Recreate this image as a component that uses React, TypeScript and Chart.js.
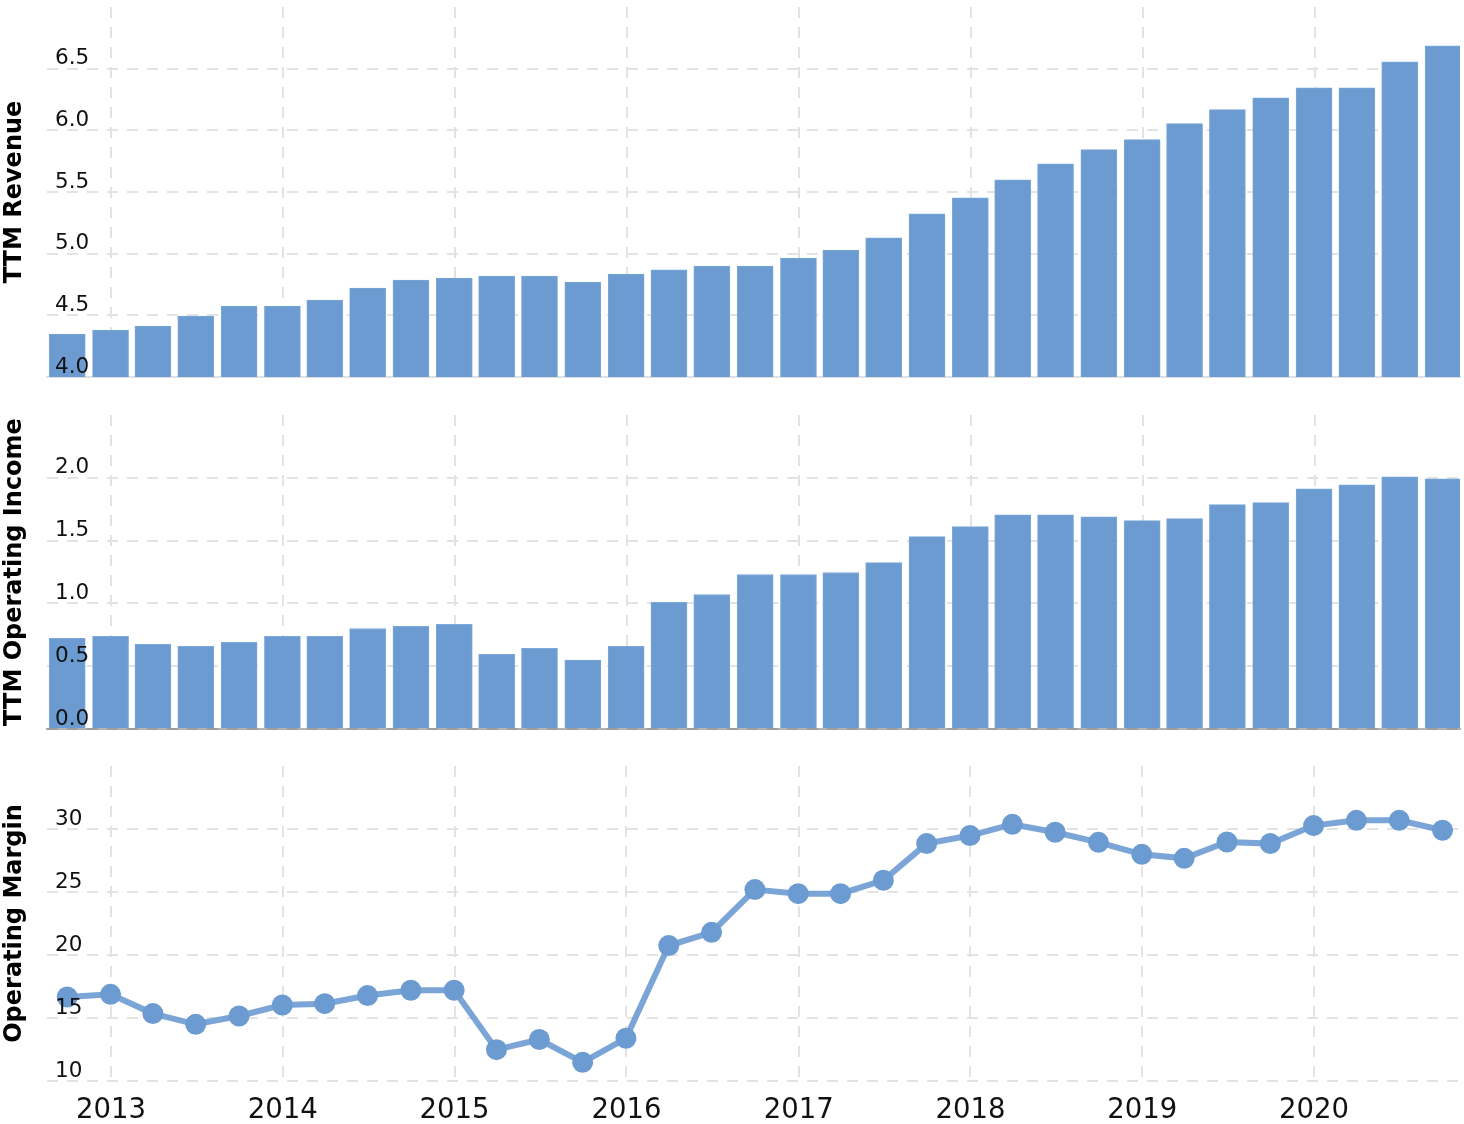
import React, { useEffect, useRef } from 'react';
import { Chart, registerables } from 'chart.js';

Chart.register(...registerables);

// ---- Data ----
const quarterEnds = [
  '2012-09-30', '2012-12-31',
  '2013-03-31', '2013-06-30', '2013-09-30', '2013-12-31',
  '2014-03-31', '2014-06-30', '2014-09-30', '2014-12-31',
  '2015-03-31', '2015-06-30', '2015-09-30', '2015-12-31',
  '2016-03-31', '2016-06-30', '2016-09-30', '2016-12-31',
  '2017-03-31', '2017-06-30', '2017-09-30', '2017-12-31',
  '2018-03-31', '2018-06-30', '2018-09-30', '2018-12-31',
  '2019-03-31', '2019-06-30', '2019-09-30', '2019-12-31',
  '2020-03-31', '2020-06-30', '2020-09-30',
];

const ttmRevenue = [
  4.347, 4.38, 4.412, 4.493, 4.575, 4.575, 4.624, 4.721, 4.786, 4.803, 4.819,
  4.819, 4.77, 4.835, 4.868, 4.9, 4.9, 4.965, 5.03, 5.128, 5.323, 5.453,
  5.599, 5.729, 5.843, 5.925, 6.055, 6.168, 6.263, 6.345, 6.345, 6.556, 6.686,
];

const ttmOperatingIncome = [
  0.722, 0.738, 0.675, 0.659, 0.69, 0.738, 0.738, 0.8, 0.817, 0.833, 0.595,
  0.643, 0.548, 0.659, 1.008, 1.071, 1.23, 1.23, 1.246, 1.325, 1.532, 1.611,
  1.706, 1.706, 1.69, 1.659, 1.675, 1.786, 1.802, 1.913, 1.944, 2.008, 1.992,
];

const operatingMargin = [
  16.67, 16.88, 15.35, 14.5, 15.16, 16.03, 16.14, 16.78, 17.2, 17.2, 12.49,
  13.29, 11.48, 13.39, 20.75, 21.8, 25.19, 24.87, 24.87, 25.93, 28.84, 29.48,
  30.37, 29.74, 28.94, 27.99, 27.67, 28.97, 28.84, 30.27, 30.69, 30.69, 29.9,
];

const yearTicks = [2013, 2014, 2015, 2016, 2017, 2018, 2019, 2020];

// ---- Styles ----
const FONT = "'DejaVu Sans', 'Verdana', sans-serif";
const BAR = '#6b9bd1';
const BAR_BORDER = '#7ba7d9';
const GRID = '#e3e3e3';
const DASH = [11, 9];
const DAY = 86400000;

const xMin = Date.parse(quarterEnds[0]) - 43 * DAY;
const xMax = Date.parse(quarterEnds[quarterEnds.length - 1]) + 36 * DAY;

const points = (vals: number[]) =>
  quarterEnds.map((d, i) => ({ x: Date.parse(d), y: vals[i] }));

function xScale(showLabels: boolean, borderColor: string | null, borderZ: number) {
  return {
    type: 'linear',
    min: xMin,
    max: xMax,
    offset: false,
    afterBuildTicks: (axis: any) => {
      axis.ticks = yearTicks.map((y) => ({ value: Date.UTC(y, 0, 1) }));
    },
    grid: { display: true, drawTicks: false, color: GRID, lineWidth: 2, offset: false },
    border: {
      display: !!borderColor,
      color: borderColor || GRID,
      width: 2,
      dash: DASH,
      z: borderZ,
    },
    ticks: {
      display: showLabels,
      autoSkip: false,
      maxRotation: 0,
      minRotation: 0,
      padding: 4,
      color: '#111',
      font: { family: FONT, size: 27.5, lineHeight: 52 / 27.5 },
      callback: (v: any) => String(new Date(Number(v)).getUTCFullYear()),
    },
  };
}

function yScale(title: string, min: number, max: number, step: number, digits: number) {
  return {
    type: 'linear',
    position: 'left',
    min,
    max,
    ticks: {
      stepSize: step,
      mirror: true,
      padding: 8,
      labelOffset: -10,
      z: 1,
      color: '#111',
      font: { family: FONT, size: 21.5 },
      callback: (v: any, i: number, t: any[]) =>
        i === t.length - 1 ? null : Number(v).toFixed(digits),
    },
    grid: { color: GRID, lineWidth: 2, drawTicks: false },
    border: { display: false, dash: DASH },
    title: {
      display: true,
      text: title,
      color: '#000',
      font: { family: FONT, size: 24, weight: 'bold', lineHeight: 1 },
      padding: { top: 1, bottom: 4 },
    },
  };
}

const common = (padTop: number, padBottom: number) => ({
  responsive: false,
  animation: false as const,
  devicePixelRatio: 1,
  events: [] as any[],
  layout: { padding: { left: 2, right: 4, top: padTop, bottom: padBottom } },
  plugins: { legend: { display: false }, tooltip: { enabled: false } },
});

export default function App() {
  const r1 = useRef<HTMLCanvasElement>(null);
  const r2 = useRef<HTMLCanvasElement>(null);
  const r3 = useRef<HTMLCanvasElement>(null);

  useEffect(() => {
    const c1 = new Chart(r1.current as HTMLCanvasElement, {
      type: 'bar',
      data: {
        datasets: [
          {
            data: points(ttmRevenue) as any,
            backgroundColor: BAR,
            borderColor: BAR_BORDER,
            borderWidth: 1,
            barThickness: 36,
          },
        ],
      },
      options: {
        ...common(21, 21),
        scales: {
          x: xScale(false, '#e0e0e0', 0) as any,
          y: yScale('TTM Revenue', 4, 7, 0.5, 1) as any,
        },
      } as any,
    });

    const c2 = new Chart(r2.current as HTMLCanvasElement, {
      type: 'bar',
      data: {
        datasets: [
          {
            data: points(ttmOperatingIncome) as any,
            backgroundColor: BAR,
            borderColor: BAR_BORDER,
            borderWidth: 1,
            barThickness: 36,
          },
        ],
      },
      options: {
        ...common(21, 21),
        scales: {
          x: xScale(false, 'rgba(0,0,0,0.3)', 1) as any,
          y: yScale('TTM Operating Income', 0, 2.5, 0.5, 1) as any,
        },
      } as any,
    });

    const c3 = new Chart(r3.current as HTMLCanvasElement, {
      type: 'line',
      data: {
        datasets: [
          {
            data: points(operatingMargin) as any,
            borderColor: 'rgba(107,155,209,0.9)',
            borderWidth: 6,
            tension: 0,
            pointRadius: 10.5,
            pointBackgroundColor: BAR,
            pointBorderWidth: 0,
            pointBorderColor: BAR,
            fill: false,
          },
        ],
      },
      options: {
        ...common(21, 0),
        scales: {
          x: xScale(true, null, 0) as any,
          y: yScale('Operating Margin', 10, 35, 5, 0) as any,
        },
      } as any,
    });

    return () => {
      c1.destroy();
      c2.destroy();
      c3.destroy();
    };
  }, []);

  return (
    <div
      style={{
        position: 'absolute',
        left: 0,
        top: 0,
        width: 1464,
        height: 1124,
        overflow: 'hidden',
        background: '#fff',
      }}
    >
      <canvas
        ref={r1}
        width={1464}
        height={412}
        style={{ position: 'absolute', left: 0, top: -14, width: 1464, height: 412 }}
      />
      <canvas
        ref={r2}
        width={1464}
        height={356}
        style={{ position: 'absolute', left: 0, top: 394, width: 1464, height: 356 }}
      />
      <canvas
        ref={r3}
        width={1470}
        height={396}
        style={{ position: 'absolute', left: 0, top: 745, width: 1470, height: 396 }}
      />
    </div>
  );
}
